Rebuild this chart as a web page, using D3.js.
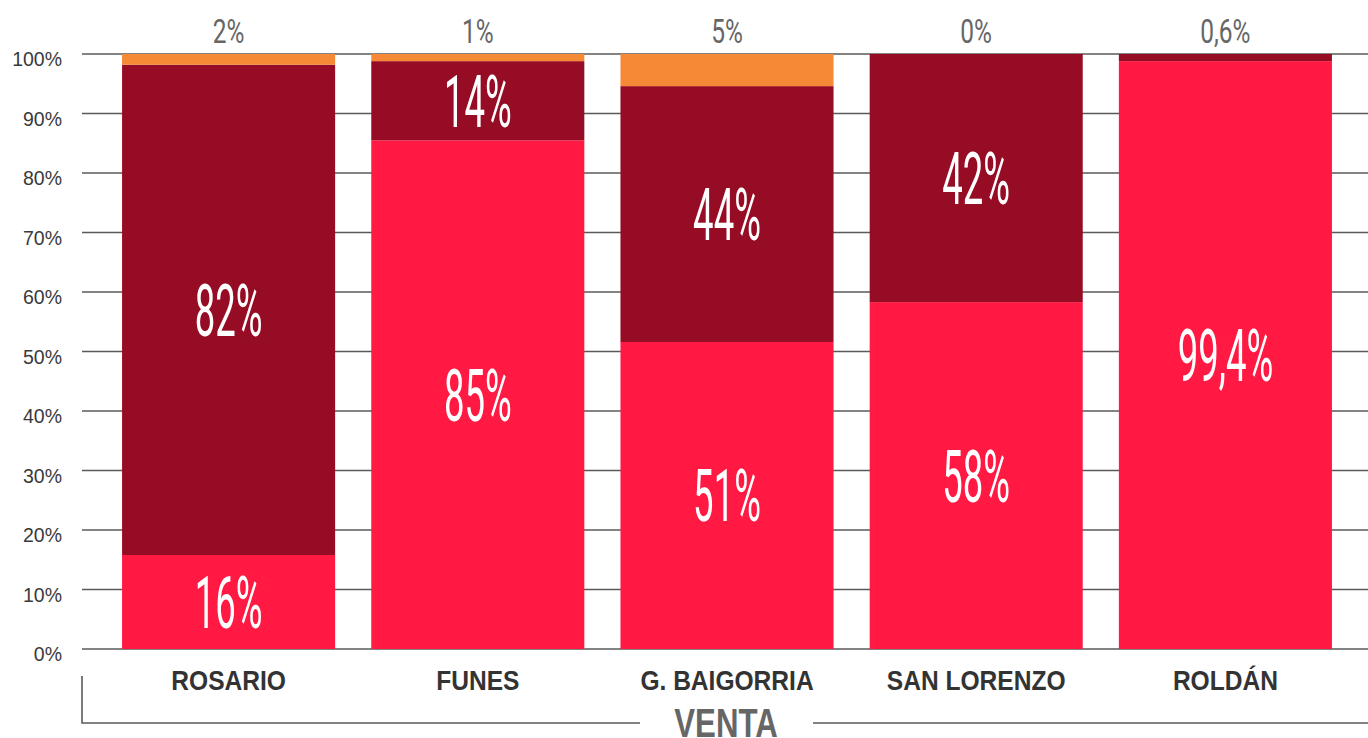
<!DOCTYPE html>
<html>
<head>
<meta charset="utf-8">
<script src="https://cdn.jsdelivr.net/npm/d3@7"></script>
<style>
  body { margin: 0; background: #fff; }
  svg { display: block; }
</style>
</head>
<body>
<div id="chart"></div>
<script>
var w = 1368, h = 738;

// datos
var ciudades = ["ROSARIO", "FUNES", "G. BAIGORRIA", "SAN LORENZO", "ROLDÁN"];
var serieBaja = [15.8, 85.5, 51.6, 58.3, 98.8];
var serieMedia = [82.4, 13.3, 43.0, 41.7, 1.2];
var serieAlta = [1.8, 1.2, 5.4, 0, 0];
var textoBaja = ["16%", "85%", "51%", "58%", "99,4%"];
var textoMedia = ["82%", "14%", "44%", "42%", ""];
var textoArriba = ["2%", "1%", "5%", "0%", "0,6%"];
var ticks = [0, 10, 20, 30, 40, 50, 60, 70, 80, 90, 100];
var titulo = "VENTA";

var colores = ["#ff1943", "#960c25", "#f58935"];

var x0 = 82, x1 = 1368, y0 = 649, y1 = 54;

var svg = d3.select("#chart").append("svg").attr("width", w).attr("height", h);

var x = d3.scaleBand().domain(ciudades).range([104, 1350]).paddingInner(0.145).paddingOuter(0.0725);
var y = d3.scaleLinear().domain([0, 100]).range([y0, y1]);

// grilla
svg.append("g").selectAll("line").data(ticks).enter().append("line")
  .attr("x1", x0).attr("x2", x1)
  .attr("y1", function (d) { return y(d); }).attr("y2", function (d) { return y(d); })
  .style("stroke", "#5a5a5a").style("stroke-width", 1.6);

svg.append("g").selectAll("text").data(ticks).enter().append("text")
  .attr("x", 62).attr("y", function (d) { return y(d) + 12; })
  .attr("text-anchor", "end")
  .style("font-family", "'Liberation Sans', Arial, sans-serif")
  .style("font-size", "19.5px").style("fill", "#3a3a3a")
  .text(function (d) { return d + "%"; });

// barras apiladas
var filas = ciudades.map(function (c, i) {
  return { ciudad: c, baja: serieBaja[i], media: serieMedia[i], alta: serieAlta[i] };
});
var pila = d3.stack().keys(["baja", "media", "alta"])(filas);

var capas = svg.append("g").selectAll("g").data(pila).enter().append("g")
  .style("fill", function (d, i) { return colores[i]; });

capas.selectAll("rect").data(function (d) { return d; }).enter().append("rect")
  .attr("x", function (d) { return x(d.data.ciudad); })
  .attr("width", x.bandwidth())
  .attr("y", function (d) { return y(d[1]); })
  .attr("height", function (d) { return y(d[0]) - y(d[1]); });

// etiquetas blancas
function etiquetas(capa, textos) {
  svg.append("g").selectAll("text").data(pila[capa]).enter().append("text")
    .attr("transform", function (d) {
      var cx = x(d.data.ciudad) + x.bandwidth() / 2;
      var cy = (y(d[0]) + y(d[1])) / 2 + 26;
      return "translate(" + cx + "," + cy + ") scale(0.5,1)";
    })
    .attr("text-anchor", "middle")
    .style("font-family", "Roboto, sans-serif").style("font-weight", 400)
    .style("font-size", "73px").style("fill", "#fff")
    .text(function (d, i) { return textos[i]; });
}
etiquetas(0, textoBaja);
etiquetas(1, textoMedia);

// etiquetas superiores
svg.append("g").selectAll("text").data(ciudades).enter().append("text")
  .attr("transform", function (d) {
    return "translate(" + (x(d) + x.bandwidth() / 2) + ",43) scale(0.72,1)";
  })
  .attr("text-anchor", "middle")
  .style("font-family", "Roboto, sans-serif").style("font-weight", 400)
  .style("font-size", "34px").style("fill", "#666")
  .text(function (d, i) { return textoArriba[i]; });

// categorias
svg.append("g").selectAll("text").data(ciudades).enter().append("text")
  .attr("transform", function (d) {
    return "translate(" + (x(d) + x.bandwidth() / 2) + ",690) scale(0.91,1)";
  })
  .attr("text-anchor", "middle")
  .style("font-family", "'Liberation Sans', Arial, sans-serif").style("font-weight", "bold")
  .style("font-size", "27px").style("fill", "#333")
  .text(function (d) { return d; });

// llave inferior
var medio = (x0 + x1) / 2;
svg.append("path")
  .attr("d", "M " + x0 + " 676 V 723 H 640 M 813 723 H " + x1)
  .style("fill", "none").style("stroke", "#5a5a5a").style("stroke-width", 1.6);

svg.append("text")
  .attr("transform", "translate(" + (medio + 1) + ",737) scale(0.78,1)")
  .attr("text-anchor", "middle")
  .style("font-family", "'Liberation Sans', Arial, sans-serif").style("font-weight", "bold")
  .style("font-size", "40px").style("fill", "#666")
  .text(titulo);
</script>
</body>
</html>
